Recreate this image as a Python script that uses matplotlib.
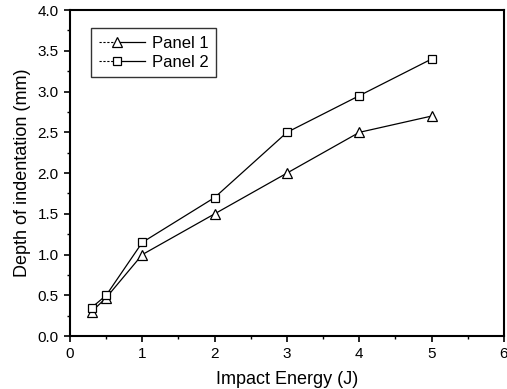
import matplotlib.pyplot as plt
from matplotlib.lines import Line2D
from matplotlib.legend_handler import HandlerLine2D
from matplotlib.ticker import MultipleLocator

plt.rcParams['font.family'] = ['Liberation Sans', 'DejaVu Sans']

energy = [0.3, 0.5, 1, 2, 3, 4, 5]
panel_1 = [0.30, 0.47, 1.00, 1.50, 2.00, 2.50, 2.70]
panel_2 = [0.35, 0.50, 1.15, 1.70, 2.50, 2.95, 3.40]


class DashSolidHandler(HandlerLine2D):
    # dashed stub on the left, marker in the middle, solid line on the right
    def create_artists(self, legend, orig, xdescent, ydescent, width, height, fontsize, trans):
        y = height / 2 - ydescent
        mid = -xdescent + width * 0.4
        left = Line2D([-xdescent, mid], [y, y], color='black', linewidth=0.8, linestyle=(0, (2, 1.5)))
        right = Line2D([mid, width - xdescent], [y, y], color='black', linewidth=0.9)
        mark = Line2D([mid], [y], linestyle='none', marker=orig.get_marker(),
                      markersize=orig.get_markersize(), markerfacecolor='white',
                      markeredgecolor='black', markeredgewidth=0.9)
        for a in (left, right, mark):
            a.set_transform(trans)
        return [left, right, mark]


fig = plt.figure(figsize=(5.07, 3.89), dpi=100)
ax = fig.add_axes([0.138, 0.136, 0.856, 0.838])

ax.plot(energy, panel_1, color='black', linewidth=0.9, marker='^', markersize=7.5,
        markerfacecolor='white', markeredgecolor='black', markeredgewidth=0.9, label='Panel 1')
ax.plot(energy, panel_2, color='black', linewidth=0.9, marker='s', markersize=5.5,
        markerfacecolor='white', markeredgecolor='black', markeredgewidth=0.9, label='Panel 2')

ax.set_xlim(0, 6)
ax.set_ylim(0, 4.0)
ax.xaxis.set_major_locator(MultipleLocator(1))
ax.xaxis.set_minor_locator(MultipleLocator(0.5))
ax.yaxis.set_major_locator(MultipleLocator(0.5))
ax.yaxis.set_minor_locator(MultipleLocator(0.25))
ax.yaxis.set_major_formatter(lambda v, p: f'{v:.1f}')
ax.tick_params(which='major', direction='out', length=4, width=1.2, labelsize=11, pad=4)
ax.tick_params(which='minor', direction='out', length=2.5, width=1)
for s in ax.spines.values():
    s.set_linewidth(1.5)

ax.set_xlabel('Impact Energy (J)', fontsize=13, labelpad=7)
ax.set_ylabel('Depth of indentation (mm)', fontsize=13, labelpad=5)

leg = ax.legend(loc='upper left', bbox_to_anchor=(0.03, 0.97), fontsize=12,
                frameon=True, fancybox=False, edgecolor='black', handlelength=2.8,
                borderpad=0.45, labelspacing=0.25, handletextpad=0.4,
                handler_map={Line2D: DashSolidHandler()})
leg.get_frame().set_linewidth(1.0)

fig.savefig('out.png', dpi=100)
